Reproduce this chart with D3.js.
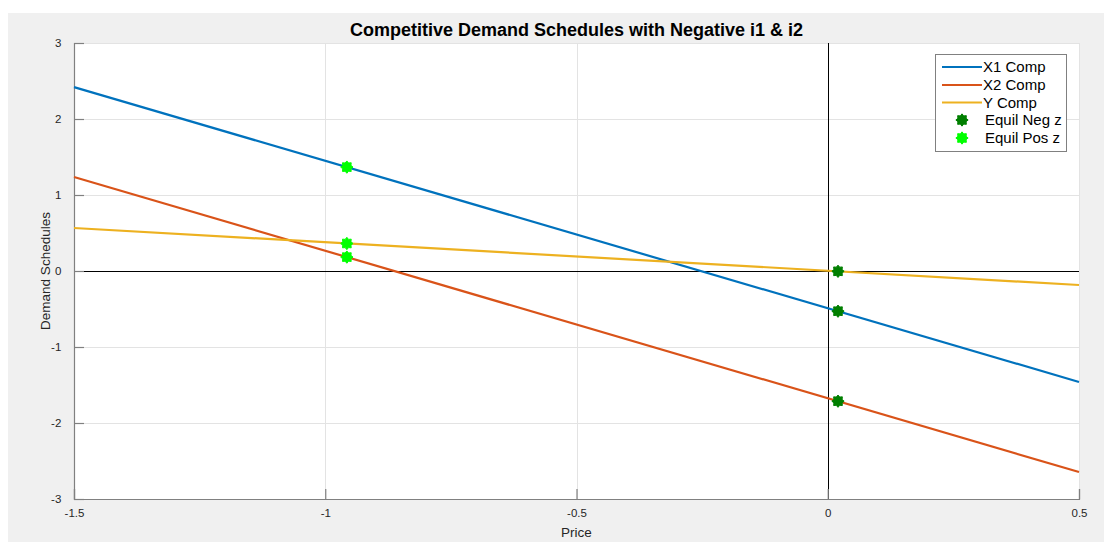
<!DOCTYPE html>
<html>
<head>
<meta charset="utf-8">
<script src="https://cdn.jsdelivr.net/npm/d3@7"></script>
<style>
  html, body { margin: 0; padding: 0; background: #ffffff; }
  svg { display: block; font-family: "Liberation Sans", Arial, sans-serif; }
</style>
</head>
<body>
<svg id="chart" width="1104" height="542"></svg>
<script>
// Price range endpoints for each linear demand schedule
const priceEnds = [-1.5, 0.5];
const x1Comp = [2.42, -1.46];
const x2Comp = [1.237, -2.645];
const yComp = [0.566, -0.184];

// Equilibrium points (price, quantity)
const equilNegPrice = [0.0204, 0.0204, 0.0204];
const equilNegQty = [-0.004, -0.529, -1.713];
const equilPosPrice = [-0.957, -0.957, -0.957];
const equilPosQty = [1.367, 0.362, 0.183];

const xTicks = [-1.5, -1, -0.5, 0, 0.5];
const yTicks = [-3, -2, -1, 0, 1, 2, 3];

const seriesNames = ["X1 Comp", "X2 Comp", "Y Comp"];
const seriesColors = ["#0072bd", "#d95319", "#edb120"];

const W = 1104, H = 542;
const plot = { left: 74, top: 43, right: 1079, bottom: 499 };

const svg = d3.select("#chart");

// figure background
svg.append("rect").attr("x", 8).attr("y", 13).attr("width", W - 8).attr("height", H - 13)
  .attr("fill", "#f0f0f0");
svg.append("rect").attr("x", plot.left).attr("y", plot.top)
  .attr("width", plot.right - plot.left).attr("height", plot.bottom - plot.top)
  .attr("fill", "#ffffff");

const x = d3.scaleLinear().domain([-1.5, 0.5]).range([plot.left, plot.right]);
const y = d3.scaleLinear().domain([-3, 3]).range([plot.bottom, plot.top]);

// grid
const grid = svg.append("g").attr("stroke", "#e3e3e3").attr("stroke-width", 1);
xTicks.forEach(t => {
  grid.append("line").attr("x1", Math.round(x(t)) + 0.5).attr("x2", Math.round(x(t)) + 0.5)
    .attr("y1", plot.top).attr("y2", plot.bottom);
});
yTicks.forEach(t => {
  grid.append("line").attr("y1", Math.round(y(t)) + 0.5).attr("y2", Math.round(y(t)) + 0.5)
    .attr("x1", plot.left).attr("x2", plot.right);
});

// zero reference lines
svg.append("line").attr("x1", plot.left).attr("x2", plot.right)
  .attr("y1", Math.round(y(0)) + 0.5).attr("y2", Math.round(y(0)) + 0.5)
  .attr("stroke", "#000").attr("stroke-width", 1);
svg.append("line").attr("x1", Math.round(x(0)) + 0.5).attr("x2", Math.round(x(0)) + 0.5)
  .attr("y1", plot.top).attr("y2", plot.bottom)
  .attr("stroke", "#000").attr("stroke-width", 1);

// axes (hyphen-minus labels)
const fmt = d => String(d);
const xAxis = d3.axisBottom(x).tickValues(xTicks).tickSize(-10).tickPadding(14).tickFormat(fmt);
const yAxis = d3.axisLeft(y).tickValues(yTicks).tickSize(-10).tickPadding(15).tickFormat(fmt);

const gx = svg.append("g").attr("transform", `translate(0,${plot.bottom})`).call(xAxis);
const gy = svg.append("g").attr("transform", `translate(${plot.left},0)`).call(yAxis);
[gx, gy].forEach(g => {
  g.select(".domain").attr("stroke", "#808080").attr("stroke-width", 1.2);
  g.selectAll(".tick line").attr("stroke", "#808080").attr("stroke-width", 1.2);
  g.selectAll(".tick text").attr("fill", "#262626").attr("font-size", 11.5)
    .attr("font-family", "Liberation Sans, Arial, sans-serif");
});
gx.selectAll(".tick text").attr("dy", "0.35em");
gy.selectAll(".tick text").attr("dx", "0.2em");

// demand lines
const lineGen = d3.line().x(d => x(d[0])).y(d => y(d[1]));
[x1Comp, x2Comp, yComp].forEach((vals, i) => {
  const pts = priceEnds.map((p, j) => [p, vals[j]]);
  svg.append("path").datum(pts).attr("d", lineGen)
    .attr("fill", "none").attr("stroke", seriesColors[i]).attr("stroke-width", 2.2);
});

// equilibrium markers
const star = d3.symbol().type({
  draw(ctx, size) {
    const n = 8, ro = Math.sqrt(size / Math.PI) * 1.15, ri = ro * 0.72;
    for (let k = 0; k < n * 2; k++) {
      const a = Math.PI * k / n;
      const r = k % 2 === 0 ? ro : ri;
      const px = r * Math.sin(a), py = -r * Math.cos(a);
      if (k === 0) ctx.moveTo(px, py); else ctx.lineTo(px, py);
    }
    ctx.closePath();
  }
}).size(90);

function drawMarkers(px, py, color) {
  px.forEach((p, i) => {
    svg.append("path").attr("d", star)
      .attr("transform", `translate(${x(p)},${y(py[i])})`)
      .attr("fill", color).attr("stroke", color).attr("stroke-width", 1);
  });
}
drawMarkers(equilNegPrice, equilNegQty, "#007f00");
drawMarkers(equilPosPrice, equilPosQty, "#00ff00");

// title and axis labels
svg.append("text").attr("x", (plot.left + plot.right) / 2).attr("y", 36)
  .attr("text-anchor", "middle").attr("font-size", 18).attr("font-weight", "bold")
  .attr("fill", "#000").text("Competitive Demand Schedules with Negative i1 & i2");
svg.append("text").attr("x", (plot.left + plot.right) / 2).attr("y", 537)
  .attr("text-anchor", "middle").attr("font-size", 13.5).attr("fill", "#262626").text("Price");
svg.append("text").attr("transform", `translate(50,${(plot.top + plot.bottom) / 2}) rotate(-90)`)
  .attr("text-anchor", "middle").attr("font-size", 13.5).attr("fill", "#262626").text("Demand Schedules");

// legend
const lg = svg.append("g");
lg.append("rect").attr("x", 935.5).attr("y", 54.5).attr("width", 131).attr("height", 97)
  .attr("fill", "#fff").attr("stroke", "#808080").attr("stroke-width", 1);
const rowY = [67, 85, 102.5, 120, 138];
seriesNames.forEach((name, i) => {
  lg.append("line").attr("x1", 942).attr("x2", 982).attr("y1", rowY[i]).attr("y2", rowY[i])
    .attr("stroke", seriesColors[i]).attr("stroke-width", 2.2);
  lg.append("text").attr("x", 983).attr("y", rowY[i] + 5).attr("font-size", 15)
    .attr("fill", "#000").text(name);
});
[["Equil Neg z", "#007f00"], ["Equil Pos z", "#00ff00"]].forEach(([name, c], k) => {
  const ry = rowY[3 + k];
  lg.append("path").attr("d", star).attr("transform", `translate(962,${ry})`)
    .attr("fill", c).attr("stroke", c).attr("stroke-width", 1);
  lg.append("text").attr("x", 985).attr("y", ry + 5).attr("font-size", 15)
    .attr("fill", "#000").text(name);
});
</script>
</body>
</html>
